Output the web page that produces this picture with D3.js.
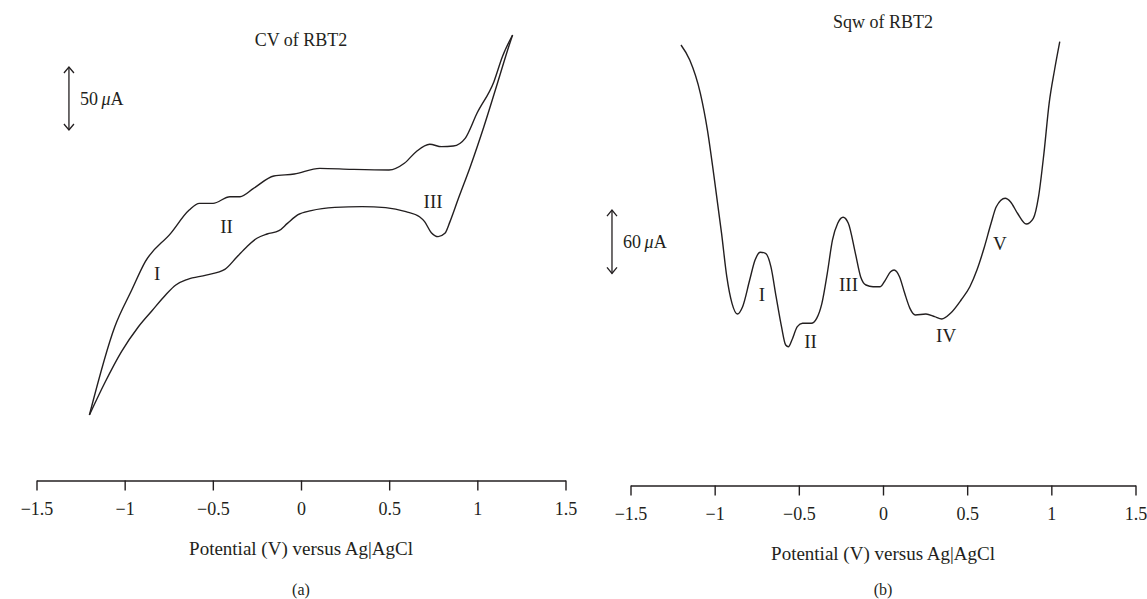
<!DOCTYPE html>
<html>
<head>
<meta charset="utf-8">
<script src="https://cdn.jsdelivr.net/npm/d3@7/dist/d3.min.js"></script>
<style>
  html, body { margin: 0; padding: 0; background: #fff; }
  svg { display: block; }
  text { font-family: "Liberation Serif", "DejaVu Serif", serif; fill: #231f20; }
</style>
</head>
<body>
<svg id="chart" width="1147" height="599"></svg>
<script>
// ---------- DATA ----------
const tickValues = [-1.5, -1, -0.5, 0, 0.5, 1, 1.5];
const tickLabels = ["\u22121.5", "\u22121", "\u22120.5", "0", "0.5", "1", "1.5"];

// Panel (a): cyclic voltammogram, forward (upper) branch  [potential V, current µA]
const cvForwardV = [-1.2, -1.056, -0.96, -0.883, -0.739, -0.634, -0.576, -0.499, -0.403, -0.346, -0.269, -0.154, -0.038, 0.106, 0.288, 0.499, 0.586, 0.653, 0.730, 0.797, 0.864, 0.931, 0.998, 1.094, 1.142, 1.2];
const cvForwardI = [-91.3, -21.2, 7.9, 30.4, 52.9, 71.4, 76.7, 76.7, 82, 82, 88.6, 98.4, 100, 104.5, 103.7, 103.2, 108.5, 117.7, 123.6, 121.7, 122.2, 128.3, 148.2, 173.3, 193.1, 210.3];
// Panel (a): reverse (lower) branch
const cvReverseV = [1.2, 1.181, 1.114, 1.037, 0.960, 0.893, 0.845, 0.816, 0.778, 0.739, 0.701, 0.672, 0.595, 0.480, 0.346, 0.192, 0.058, -0.019, -0.077, -0.125, -0.192, -0.250, -0.307, -0.365, -0.432, -0.538, -0.643, -0.710, -0.768, -0.845, -0.922, -1.018, -1.114, -1.2];
const cvReverseI = [210.3, 202.4, 172, 137.5, 105.8, 80.7, 62.2, 52.9, 50.3, 53.4, 62.2, 66.1, 70.1, 73.3, 74.1, 73.5, 70.9, 67.5, 60.8, 55, 52.4, 49, 42.3, 33.9, 24.3, 19.8, 16.4, 11.9, 4, -8.5, -21.2, -41, -66.1, -91.3];
const cvPeakNames = ["I", "II", "III"];
const cvPeakV = [-0.816, -0.422, 0.749];
const cvPeakI = [21.2, 58.2, 78];

// Panel (b): square-wave voltammogram  [potential V, current µA]
const sqwV = [-1.2, -1.148, -1.085, -1.043, -1.001, -0.959, -0.928, -0.897, -0.865, -0.834, -0.792, -0.760, -0.729, -0.698, -0.666, -0.635, -0.603, -0.578, -0.562, -0.541, -0.509, -0.478, -0.426, -0.394, -0.363, -0.331, -0.300, -0.269, -0.237, -0.206, -0.164, -0.133, -0.101, -0.059, -0.017, 0.014, 0.045, 0.066, 0.098, 0.129, 0.160, 0.192, 0.255, 0.307, 0.349, 0.401, 0.464, 0.516, 0.558, 0.600, 0.642, 0.673, 0.726, 0.757, 0.799, 0.851, 0.893, 0.924, 0.956, 0.987, 1.019, 1.05];
const sqwI = [336.5, 322.3, 290.7, 255.9, 208.5, 158, 116.9, 91.6, 81.5, 88.4, 113.7, 132.7, 140, 139, 126.4, 97.9, 69.5, 52.1, 50.5, 56.9, 69.5, 72.7, 72.7, 77.4, 91.6, 120.1, 151.7, 167.5, 173.2, 167.5, 139, 116.9, 109, 107.4, 107.4, 113.7, 121.6, 123.2, 116.9, 101.1, 86.9, 80.6, 81.5, 79, 76.8, 82.2, 94.8, 107.4, 123.2, 143.8, 167.5, 183.2, 191.2, 188, 177, 166.8, 172.2, 192.7, 233.8, 281.2, 312.8, 339.6];
const sqwPeakNames = ["I", "II", "III", "IV", "V"];
const sqwPeakV = [-0.72, -0.43, -0.205, 0.375, 0.695];
const sqwPeakI = [100, 55.3, 109.6, 60.9, 148.3];

// Scale bars [top, bottom] in µA and their labels
const cvScaleBarI = [184.9, 134.9];   // 50 µA
const cvScaleBarV = -1.316;
const sqwScaleBarI = [180, 120];      // 60 µA
const sqwScaleBarV = -1.61;

// ---------- DRAW ----------
const svg = d3.select("#chart");

function panel(opts) {
  const g = svg.append("g");
  const x = d3.scaleLinear().domain([-1.5, 1.5]).range(opts.xRange);
  const y = d3.scaleLinear().domain([0, 100]).range(opts.yRange);

  // axis
  const axis = d3.axisBottom(x)
    .tickValues(tickValues)
    .tickFormat((d, i) => tickLabels[i])
    .tickSize(10)
    .tickSizeOuter(0)
    .tickPadding(12);
  const ag = g.append("g").attr("transform", `translate(0,${opts.axisY})`).call(axis);
  ag.select(".domain").attr("stroke", "#231f20").attr("stroke-width", 1.4);
  ag.selectAll(".tick line").attr("stroke", "#231f20").attr("stroke-width", 1.4);
  ag.selectAll(".tick text")
    .attr("font-family", "'Liberation Serif', serif")
    .attr("font-size", 18).attr("fill", "#231f20");

  const cx = (opts.xRange[0] + opts.xRange[1]) / 2;
  g.append("text").attr("x", cx).attr("y", opts.axisY + 74).attr("text-anchor", "middle")
    .attr("font-size", 19).text("Potential (V) versus Ag|AgCl");
  g.append("text").attr("x", cx).attr("y", 595).attr("text-anchor", "middle")
    .attr("font-size", 16).text(opts.panelLabel);
  g.append("text").attr("x", cx).attr("y", opts.titleY).attr("text-anchor", "middle")
    .attr("font-size", 18).text(opts.title);

  const line = d3.line().x(d => x(d[0])).y(d => y(d[1])).curve(d3.curveMonotoneX);
  opts.series.forEach(s => {
    const pts = s.V.map((v, i) => [v, s.I[i]]).sort((a, b) => a[0] - b[0]);
    g.append("path").attr("d", line(pts)).attr("fill", "none")
      .attr("stroke", "#231f20").attr("stroke-width", 1.4).attr("stroke-linejoin", "round");
  });

  // peak labels
  opts.peaks.names.forEach((n, i) => {
    g.append("text").attr("x", x(opts.peaks.V[i])).attr("y", y(opts.peaks.I[i]))
      .attr("text-anchor", "middle").attr("dominant-baseline", "central")
      .attr("font-size", 19).text(n);
  });

  // scale bar with open arrow heads
  const bx = x(opts.bar.V), by0 = y(opts.bar.I[0]), by1 = y(opts.bar.I[1]);
  const sb = g.append("g").attr("stroke", "#231f20").attr("stroke-width", 1.3).attr("fill", "none");
  sb.append("line").attr("x1", bx).attr("x2", bx).attr("y1", by0).attr("y2", by1);
  sb.append("path").attr("d", `M${bx - 5},${by0 + 6}L${bx},${by0}L${bx + 5},${by0 + 6}`);
  sb.append("path").attr("d", `M${bx - 5},${by1 - 6}L${bx},${by1}L${bx + 5},${by1 - 6}`);
  const t = g.append("text").attr("x", bx + 11).attr("y", (by0 + by1) / 2)
    .attr("dominant-baseline", "central").attr("font-size", 18);
  t.append("tspan").text(opts.bar.label + "\u2009");
  t.append("tspan").attr("font-style", "italic").text("\u03bc");
  t.append("tspan").text("A");
}

panel({
  xRange: [36.5, 565.5], axisY: 480.5, yRange: [300, 174],
  title: "CV of RBT2", titleY: 46, panelLabel: "(a)",
  series: [{ V: cvForwardV, I: cvForwardI }, { V: cvReverseV, I: cvReverseI }],
  peaks: { names: cvPeakNames, V: cvPeakV, I: cvPeakI },
  bar: { V: cvScaleBarV, I: cvScaleBarI, label: "50" }
});

panel({
  xRange: [630.5, 1135.5], axisY: 485.5, yRange: [400, 294.5],
  title: "Sqw of RBT2", titleY: 28, panelLabel: "(b)",
  series: [{ V: sqwV, I: sqwI }],
  peaks: { names: sqwPeakNames, V: sqwPeakV, I: sqwPeakI },
  bar: { V: sqwScaleBarV, I: sqwScaleBarI, label: "60" }
});
</script>
</body>
</html>
